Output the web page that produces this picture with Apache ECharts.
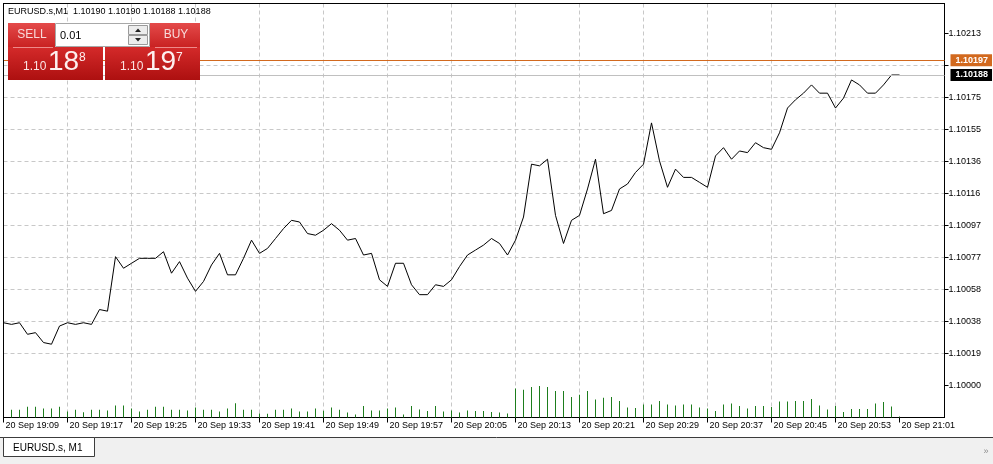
<!DOCTYPE html>
<html><head><meta charset="utf-8">
<script src="https://cdn.jsdelivr.net/npm/echarts@6/dist/echarts.min.js"></script>
<style>html,body{margin:0;padding:0;background:#fff;}#c{width:993px;height:464px;}</style>
</head><body><div id="c"></div>
<script>
// ---- data ----
const symbol = 'EURUSD.s';
const timeframe = 'M1';
const lastOHLC = ['1.10190', '1.10190', '1.10188', '1.10188'];
const lotSize = '0.01';
const askPrice = 1.10197;
const bidPrice = 1.10188;
const timeLabels = ['20 Sep 19:09','20 Sep 19:17','20 Sep 19:25','20 Sep 19:33','20 Sep 19:41','20 Sep 19:49','20 Sep 19:57','20 Sep 20:05','20 Sep 20:13','20 Sep 20:21','20 Sep 20:29','20 Sep 20:37','20 Sep 20:45','20 Sep 20:53','20 Sep 21:01'];
const priceLabels = ['1.10000','1.10019','1.10038','1.10058','1.10077','1.10097','1.10116','1.10136','1.10155','1.10175','1.10194','1.10213'];
const closePrices = [
1.10038,1.10037,1.10038,1.10031,1.10032,1.10026,1.10025,1.10036,1.10038,1.10037,
1.10038,1.10037,1.10046,1.10045,1.10078,1.10071,1.10074,1.10077,1.10077,1.10077,
1.10081,1.10068,1.10075,1.10065,1.10057,1.10063,1.10073,1.10080,1.10067,1.10067,
1.10077,1.10088,1.10080,1.10083,1.10089,1.10095,1.10100,1.10099,1.10092,1.10091,
1.10094,1.10098,1.10094,1.10088,1.10089,1.10079,1.10080,1.10064,1.10060,1.10074,
1.10074,1.10061,1.10055,1.10055,1.10061,1.10060,1.10064,1.10072,1.10079,1.10082,
1.10085,1.10089,1.10086,1.10079,1.10088,1.10102,1.10134,1.10133,1.10137,1.10103,
1.10086,1.10100,1.10103,1.10119,1.10137,1.10104,1.10106,1.10119,1.10122,1.10129,
1.10134,1.10159,1.10136,1.10120,1.10131,1.10126,1.10126,1.10123,1.10120,1.10139,
1.10144,1.10137,1.10142,1.10141,1.10147,1.10144,1.10143,1.10153,1.10168,1.10173,
1.10177,1.10182,1.10177,1.10177,1.10168,1.10174,1.10185,1.10182,1.10177,1.10177,
1.10182,1.10188,1.10188];
const tickVolumes = [
8,7.7,7.7,10.7,10.7,9,9,10.7,6,7.7,
5.3,7.7,7.7,7,12,12,9,6,7.7,10.7,
10.7,7.7,7.7,7,10,7.7,7.7,6,9,14.3,
7.7,7.7,4,3.7,7.7,7.7,9,6,6,9,
6.7,10,7.7,5,3,11.5,7,7,9,10,
3,11.5,8,6.5,11.5,6,7,5,7,6.5,
6.5,5.5,5,4,29,27.7,30.5,31.5,30.5,26.5,
26.5,20.5,22.7,26.5,18,19.7,20.5,16.5,10,9.5,
13,13,16.5,13,12,13,13,10,9,6.5,
13,14,11.5,9,11.5,11.5,10.5,16,16,16.5,
16.5,18.5,12,8,11.5,5.5,8.5,8.5,8.5,14,
15.5,11,1];

// ---- chart scale settings ----
const BASE = 1.1, PT = 0.00001;
const yStep = 19.375;          // grid step in points
const minutesPerLabel = 8;
const toPts = p => (p - BASE) / PT;

const FONT = '"Liberation Sans", Arial, sans-serif';
const chart = echarts.init(document.getElementById('c'), null, {renderer: 'canvas'});

const gridL = 3.5, gridT = 3.5, gridW = 941, gridH = 414;
const xMax = gridW / 8;
const yMin = -yStep, yMax = -yStep + gridH * yStep / 32;

function redGrad(c1, c2) {
  return new echarts.graphic.LinearGradient(0, 0, 0, 1, [{offset: 0, color: c1}, {offset: 1, color: c2}]);
}

const option = {
  animation: false,
  backgroundColor: '#ffffff',
  grid: {left: gridL, top: gridT, width: gridW, height: gridH, show: true, borderColor: '#000', borderWidth: 1, backgroundColor: '#fff'},
  xAxis: [{
    type: 'value', min: 0, max: xMax, interval: 4, position: 'bottom',
    axisLine: {show: true, onZero: false, lineStyle: {color: '#000', width: 1}},
    axisTick: {show: true, length: 5, lineStyle: {color: '#000'},
      customValues: timeLabels.map((_, j) => j * minutesPerLabel)},
    axisLabel: {show: true, align: 'left', margin: 4, padding: [0, 0, 0, 2],
      fontFamily: FONT, fontSize: 9, color: '#000',
      customValues: timeLabels.map((_, j) => j * minutesPerLabel),
      formatter: v => { const j = Math.round(v / minutesPerLabel); return (Math.abs(v - j * minutesPerLabel) < 1e-6 && timeLabels[j]) ? timeLabels[j] : ''; }},
    splitLine: {show: true, showMinLine: false, showMaxLine: false, lineStyle: {color: '#c8c8c8', type: [4, 3], width: 1}}
  }],
  yAxis: [{
    type: 'value', position: 'right', min: yMin, max: yMax, interval: yStep,
    axisLine: {show: true, onZero: false, lineStyle: {color: '#000'}},
    axisTick: {show: true, length: 4, inside: false, lineStyle: {color: '#000'},
      customValues: priceLabels.map((_, i) => i * yStep)},
    axisLabel: {margin: 4, fontFamily: FONT, fontSize: 9, color: '#000',
      customValues: priceLabels.map((_, i) => i * yStep),
      formatter: v => {
        const i = Math.round(v / yStep);
        if (Math.abs(v - i * yStep) > 1e-6 || i < 0 || i >= priceLabels.length) return '';
        const pv = parseFloat(priceLabels[i]);
        if (Math.abs(pv - askPrice) < 6 * PT) return '';
        return priceLabels[i];
      }},
    splitLine: {show: true, showMinLine: false, showMaxLine: false, lineStyle: {color: '#c8c8c8', type: [4, 3], width: 1}}
  }, {
    type: 'value', min: 0, max: gridH, show: false, splitLine: {show: false}
  }],
  series: [{
    type: 'bar', name: 'Volumes', xAxisIndex: 0, yAxisIndex: 1, barWidth: 1,
    itemStyle: {color: '#1d7d1d'}, silent: true,
    data: tickVolumes.map((v, i) => [i, v]), z: 2
  }, {
    type: 'line', name: symbol, xAxisIndex: 0, yAxisIndex: 0, clip: false,
    showSymbol: false, symbol: 'none', silent: true,
    lineStyle: {color: '#000', width: 1},
    data: closePrices.map((p, i) => [i, toPts(p)]), z: 3,
    markLine: {
      silent: true, symbol: 'none', animation: false,
      data: [
        {yAxis: toPts(askPrice), lineStyle: {color: '#d2691e', width: 1, type: 'solid'},
          label: {show: true, position: 'end', distance: 6, formatter: askPrice.toFixed(5),
            color: '#fff', backgroundColor: '#d2691e', padding: [1, 4, 1, 5], lineHeight: 10,
            fontFamily: FONT, fontSize: 9, fontWeight: 'bold'}},
        {yAxis: toPts(bidPrice), lineStyle: {color: '#c0c0c0', width: 1, type: 'solid'},
          label: {show: true, position: 'end', distance: 6, formatter: bidPrice.toFixed(5),
            color: '#fff', backgroundColor: '#000', padding: [1, 4, 1, 5], lineHeight: 10,
            fontFamily: FONT, fontSize: 9, fontWeight: 'bold'}}
      ]
    }
  }],
  graphic: [
    // left frame edge drawn over grid lines
    {type: 'line', z: 99, shape: {x1: 3.5, y1: 3, x2: 3.5, y2: 418}, style: {stroke: '#000', lineWidth: 1}},
    {type: 'line', z: 99, shape: {x1: 3, y1: 3.5, x2: 945, y2: 3.5}, style: {stroke: '#000', lineWidth: 1}},
    // header text
    {type: 'text', x: 8, y: 12, z: 100, style: {text: symbol + ',' + timeframe + '  ' + lastOHLC.join(' '), font: '9px ' + FONT, fill: '#000', verticalAlign: 'middle'}},
    // one-click trading panel
    {type: 'rect', z: 100, shape: {x: 8, y: 23, width: 47, height: 24}, style: {fill: redGrad('#e44a4a', '#c92222')}},
    {type: 'rect', z: 100, shape: {x: 150, y: 23, width: 50, height: 24}, style: {fill: redGrad('#e44a4a', '#c92222')}},
    {type: 'rect', z: 100, shape: {x: 55.5, y: 23.5, width: 94, height: 23}, style: {fill: '#fff', stroke: '#a8a8a8', lineWidth: 1}},
    {type: 'rect', z: 101, shape: {x: 128.5, y: 25.5, width: 19, height: 9}, style: {fill: '#ececec', stroke: '#9a9a9a', lineWidth: 1}},
    {type: 'rect', z: 101, shape: {x: 128.5, y: 35.5, width: 19, height: 9}, style: {fill: '#ececec', stroke: '#9a9a9a', lineWidth: 1}},
    {type: 'polygon', z: 102, shape: {points: [[135, 32], [141, 32], [138, 28.5]]}, style: {fill: '#222'}},
    {type: 'polygon', z: 102, shape: {points: [[135, 38], [141, 38], [138, 41.5]]}, style: {fill: '#222'}},
    {type: 'text', z: 102, x: 60, y: 35.5, style: {text: lotSize, font: '11px ' + FONT, fill: '#000', verticalAlign: 'middle'}},
    {type: 'text', z: 102, x: 32, y: 35, style: {text: 'SELL', font: '12px ' + FONT, fill: '#f8dada', align: 'center', verticalAlign: 'middle'}},
    {type: 'text', z: 102, x: 176, y: 35, style: {text: 'BUY', font: '12px ' + FONT, fill: '#f8dada', align: 'center', verticalAlign: 'middle'}},
    {type: 'rect', z: 100, shape: {x: 8, y: 47, width: 95, height: 33}, style: {fill: redGrad('#d42a2a', '#ad1010')}},
    {type: 'rect', z: 100, shape: {x: 105, y: 47, width: 95, height: 33}, style: {fill: redGrad('#d42a2a', '#ad1010')}},
    {type: 'line', z: 101, shape: {x1: 13, y1: 47.5, x2: 53, y2: 47.5}, style: {stroke: '#ee8a8a', lineWidth: 1}},
    {type: 'line', z: 101, shape: {x1: 155, y1: 47.5, x2: 197, y2: 47.5}, style: {stroke: '#ee8a8a', lineWidth: 1}},
    {type: 'text', z: 102, x: 23, y: 73, style: {text: '1.10', font: '12px ' + FONT, fill: '#fbe4e4', verticalAlign: 'bottom'}},
    {type: 'text', z: 102, x: 48, y: 76, style: {text: '18', font: '28px ' + FONT, fill: '#fdf0f0', verticalAlign: 'bottom'}},
    {type: 'text', z: 102, x: 79, y: 52, style: {text: '8', font: '12px ' + FONT, fill: '#fdf0f0', verticalAlign: 'top'}},
    {type: 'text', z: 102, x: 120, y: 73, style: {text: '1.10', font: '12px ' + FONT, fill: '#fbe4e4', verticalAlign: 'bottom'}},
    {type: 'text', z: 102, x: 145, y: 76, style: {text: '19', font: '28px ' + FONT, fill: '#fdf0f0', verticalAlign: 'bottom'}},
    {type: 'text', z: 102, x: 176, y: 52, style: {text: '7', font: '12px ' + FONT, fill: '#fdf0f0', verticalAlign: 'top'}},
    // bottom chrome
    {type: 'rect', z: 100, shape: {x: 0, y: 438, width: 993, height: 26}, style: {fill: '#f0f0f0'}},
    {type: 'line', z: 101, shape: {x1: 0, y1: 437.5, x2: 993, y2: 437.5}, style: {stroke: '#3c3c3c', lineWidth: 1}},
    {type: 'rect', z: 102, shape: {x: 3.5, y: 437.5, width: 91, height: 19}, style: {fill: '#fff', stroke: '#3c3c3c', lineWidth: 1}},
    {type: 'text', z: 103, x: 13, y: 448, style: {text: symbol + ', ' + timeframe, font: '10px ' + FONT, fill: '#000', verticalAlign: 'middle'}},
    {type: 'text', z: 103, x: 986, y: 452, style: {text: '»', font: '9px ' + FONT, fill: '#8a8a8a', align: 'center', verticalAlign: 'middle'}}
  ]
};
chart.setOption(option);
</script>
</body></html>
